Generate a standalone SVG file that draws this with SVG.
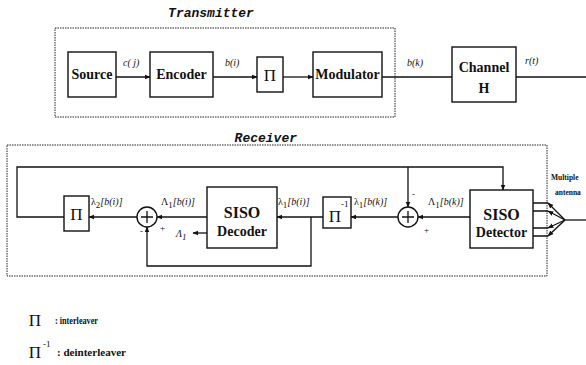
<svg xmlns="http://www.w3.org/2000/svg" width="586" height="365" viewBox="0 0 586 365">
<defs>
<marker id="ah" viewBox="0 0 10 10" refX="9" refY="5" markerWidth="6" markerHeight="6" markerUnits="userSpaceOnUse" orient="auto">
<path d="M0,1 L10,5 L0,9 Z" fill="#111"/>
</marker>
</defs>
<style>
.bg{fill:#fff}
.box{fill:#fff;stroke:#111;stroke-width:1.4}
.dot{fill:none;stroke:#222;stroke-width:1;stroke-dasharray:1.5 1}
.ln{fill:none;stroke:#111;stroke-width:1.3}
.arr{fill:none;stroke:#111;stroke-width:1.3;marker-end:url(#ah)}
.title{font-family:"Liberation Mono",monospace;font-weight:bold;font-style:italic;font-size:13px;fill:#111}
.lbl{font-family:"Liberation Serif",serif;font-weight:bold;font-size:14px;fill:#111;text-anchor:middle}
.big{font-family:"Liberation Serif",serif;font-weight:bold;font-size:16px;fill:#111;text-anchor:middle}
.pi{font-family:"Liberation Serif",serif;font-size:17px;fill:#111;text-anchor:middle}
.sig{font-family:"Liberation Serif",serif;font-style:italic;font-size:10px;fill:#111}
.sm{font-family:"Liberation Serif",serif;font-size:9px;fill:#111}
.leg{font-family:"Liberation Serif",serif;font-weight:bold;font-size:10px;fill:#111}
.ant{font-family:"Liberation Serif",serif;font-weight:bold;font-size:7.5px;fill:#111}
</style>
<rect class="bg" x="0" y="0" width="586" height="365"/>

<!-- enclosures -->
<g id="transmitter">
<rect class="dot" x="55" y="28" width="340" height="89"/>
<text class="title" x="211" y="17" text-anchor="middle">Transmitter</text>
</g>
<g id="receiver">
<rect class="dot" x="7" y="145" width="540" height="131"/>
<text class="title" x="297" y="142" text-anchor="end">Receiver</text>
</g>

<!-- connectors -->
<g id="connectors">
<path class="arr" d="M116,77 H150"/>
<path class="arr" d="M213,77 H257"/>
<path class="arr" d="M283,77 H313"/>
<path class="ln" d="M382,77 H452"/>
<path class="ln" d="M516,77 H586"/>

<path class="arr" d="M64,217 H17 V167 H503 V190"/>
<path class="arr" d="M408,167 V207"/>
<path class="arr" d="M137,217 H89"/>
<path class="arr" d="M207,217 H157"/>
<path class="arr" d="M207,233 H193"/>
<path class="arr" d="M323,217 H277"/>
<path class="arr" d="M311,217 V266 H147 V227"/>
<path class="arr" d="M398,217 H351"/>
<path class="arr" d="M470,217 H418"/>

<path class="arr" d="M565,220 L548,203"/>
<path class="arr" d="M565,220 L548,211"/>
<path class="arr" d="M565,220 L548,228"/>
<path class="arr" d="M565,220 L548,236"/>
<path class="ln" d="M548,203 H533 M548,211 H533 M548,228 H533 M548,236 H533"/>
<path class="ln" d="M565,220 H586"/>

<text class="sig" x="123" y="66">c( j)</text>
<text class="sig" x="225" y="66">b(i)</text>
<text class="sig" x="407" y="66">b(k)</text>
<text class="sig" x="525" y="64">r(t)</text>

<text class="sig" x="91" y="205"><tspan font-style="normal">λ</tspan><tspan class="sm" dy="3" font-style="normal">2</tspan><tspan dy="-3">[b(i)]</tspan></text>
<text class="sig" x="161" y="205"><tspan font-style="normal">Λ</tspan><tspan class="sm" dy="3" font-style="normal">1</tspan><tspan dy="-3">[b(i)]</tspan></text>
<text class="sig" x="278" y="205"><tspan font-style="normal">λ</tspan><tspan class="sm" dy="3" font-style="normal">1</tspan><tspan dy="-3">[b(i)]</tspan></text>
<text class="sig" x="354" y="205"><tspan font-style="normal">λ</tspan><tspan class="sm" dy="3" font-style="normal">1</tspan><tspan dy="-3">[b(k)]</tspan></text>
<text class="sig" x="428" y="205"><tspan font-style="normal">Λ</tspan><tspan class="sm" dy="3" font-style="normal">1</tspan><tspan dy="-3">[b(k)]</tspan></text>
<text class="sig" x="176" y="237" font-style="normal">Λ<tspan class="sm" dy="3">1</tspan></text>

<text class="sm" x="160" y="231">+</text>
<text class="sm" x="140" y="234">-</text>
<text class="sm" x="424" y="233">+</text>
<text class="sm" x="412" y="197">-</text>
</g>

<!-- transmitter nodes -->
<g id="source">
<rect class="box" x="68" y="52" width="48" height="45"/>
<text class="lbl" x="92" y="79">Source</text>
</g>
<g id="encoder">
<rect class="box" x="150" y="52" width="63" height="45"/>
<text class="lbl" x="181.5" y="79">Encoder</text>
</g>
<g id="interleaver-tx">
<rect class="box" x="257" y="57" width="26" height="35"/>
<text class="pi" x="270" y="81">Π</text>
</g>
<g id="modulator">
<rect class="box" x="313" y="52" width="69" height="45"/>
<text class="lbl" x="347.5" y="79">Modulator</text>
</g>
<g id="channel">
<rect class="box" x="452" y="47" width="64" height="55"/>
<text class="lbl" x="484" y="72">Channel</text>
<text class="lbl" x="484" y="93">H</text>
</g>

<!-- receiver nodes -->
<g id="interleaver-rx">
<rect class="box" x="64" y="196" width="25" height="35"/>
<text class="pi" x="76.5" y="220">Π</text>
</g>
<g id="sum1">
<circle class="box" cx="147" cy="217" r="10"/>
<path class="ln" d="M141,217 H153 M147,211 V223"/>
</g>
<g id="siso-decoder">
<rect class="box" x="207" y="187" width="70" height="61"/>
<text class="big" x="242" y="218">SISO</text>
<text class="lbl" x="242" y="236">Decoder</text>
</g>
<g id="deinterleaver">
<rect class="box" x="323" y="197" width="28" height="31"/>
<text class="pi" x="335" y="222">Π</text>
<text class="sm" x="341" y="207">-1</text>
</g>
<g id="sum2">
<circle class="box" cx="408" cy="217" r="10"/>
<path class="ln" d="M402,217 H414 M408,211 V223"/>
</g>
<g id="siso-detector">
<rect class="box" x="470" y="190" width="63" height="58"/>
<text class="big" x="501.5" y="220">SISO</text>
<text class="lbl" x="501.5" y="237">Detector</text>
</g>
<g id="antenna-label">
<text class="ant" x="551" y="180">Multiple</text>
<text class="ant" x="555" y="195">antenna</text>
</g>

<!-- legend -->
<g id="legend">
<text class="pi" x="35" y="326" font-size="15">Π</text>
<text class="leg" x="55" y="324" textLength="43" lengthAdjust="spacingAndGlyphs">: interleaver</text>
<text class="pi" x="35" y="358" font-size="15">Π</text>
<text class="sm" x="43" y="347">-1</text>
<text class="leg" x="57" y="356" textLength="69" lengthAdjust="spacingAndGlyphs">: deinterleaver</text>
</g>
</svg>
